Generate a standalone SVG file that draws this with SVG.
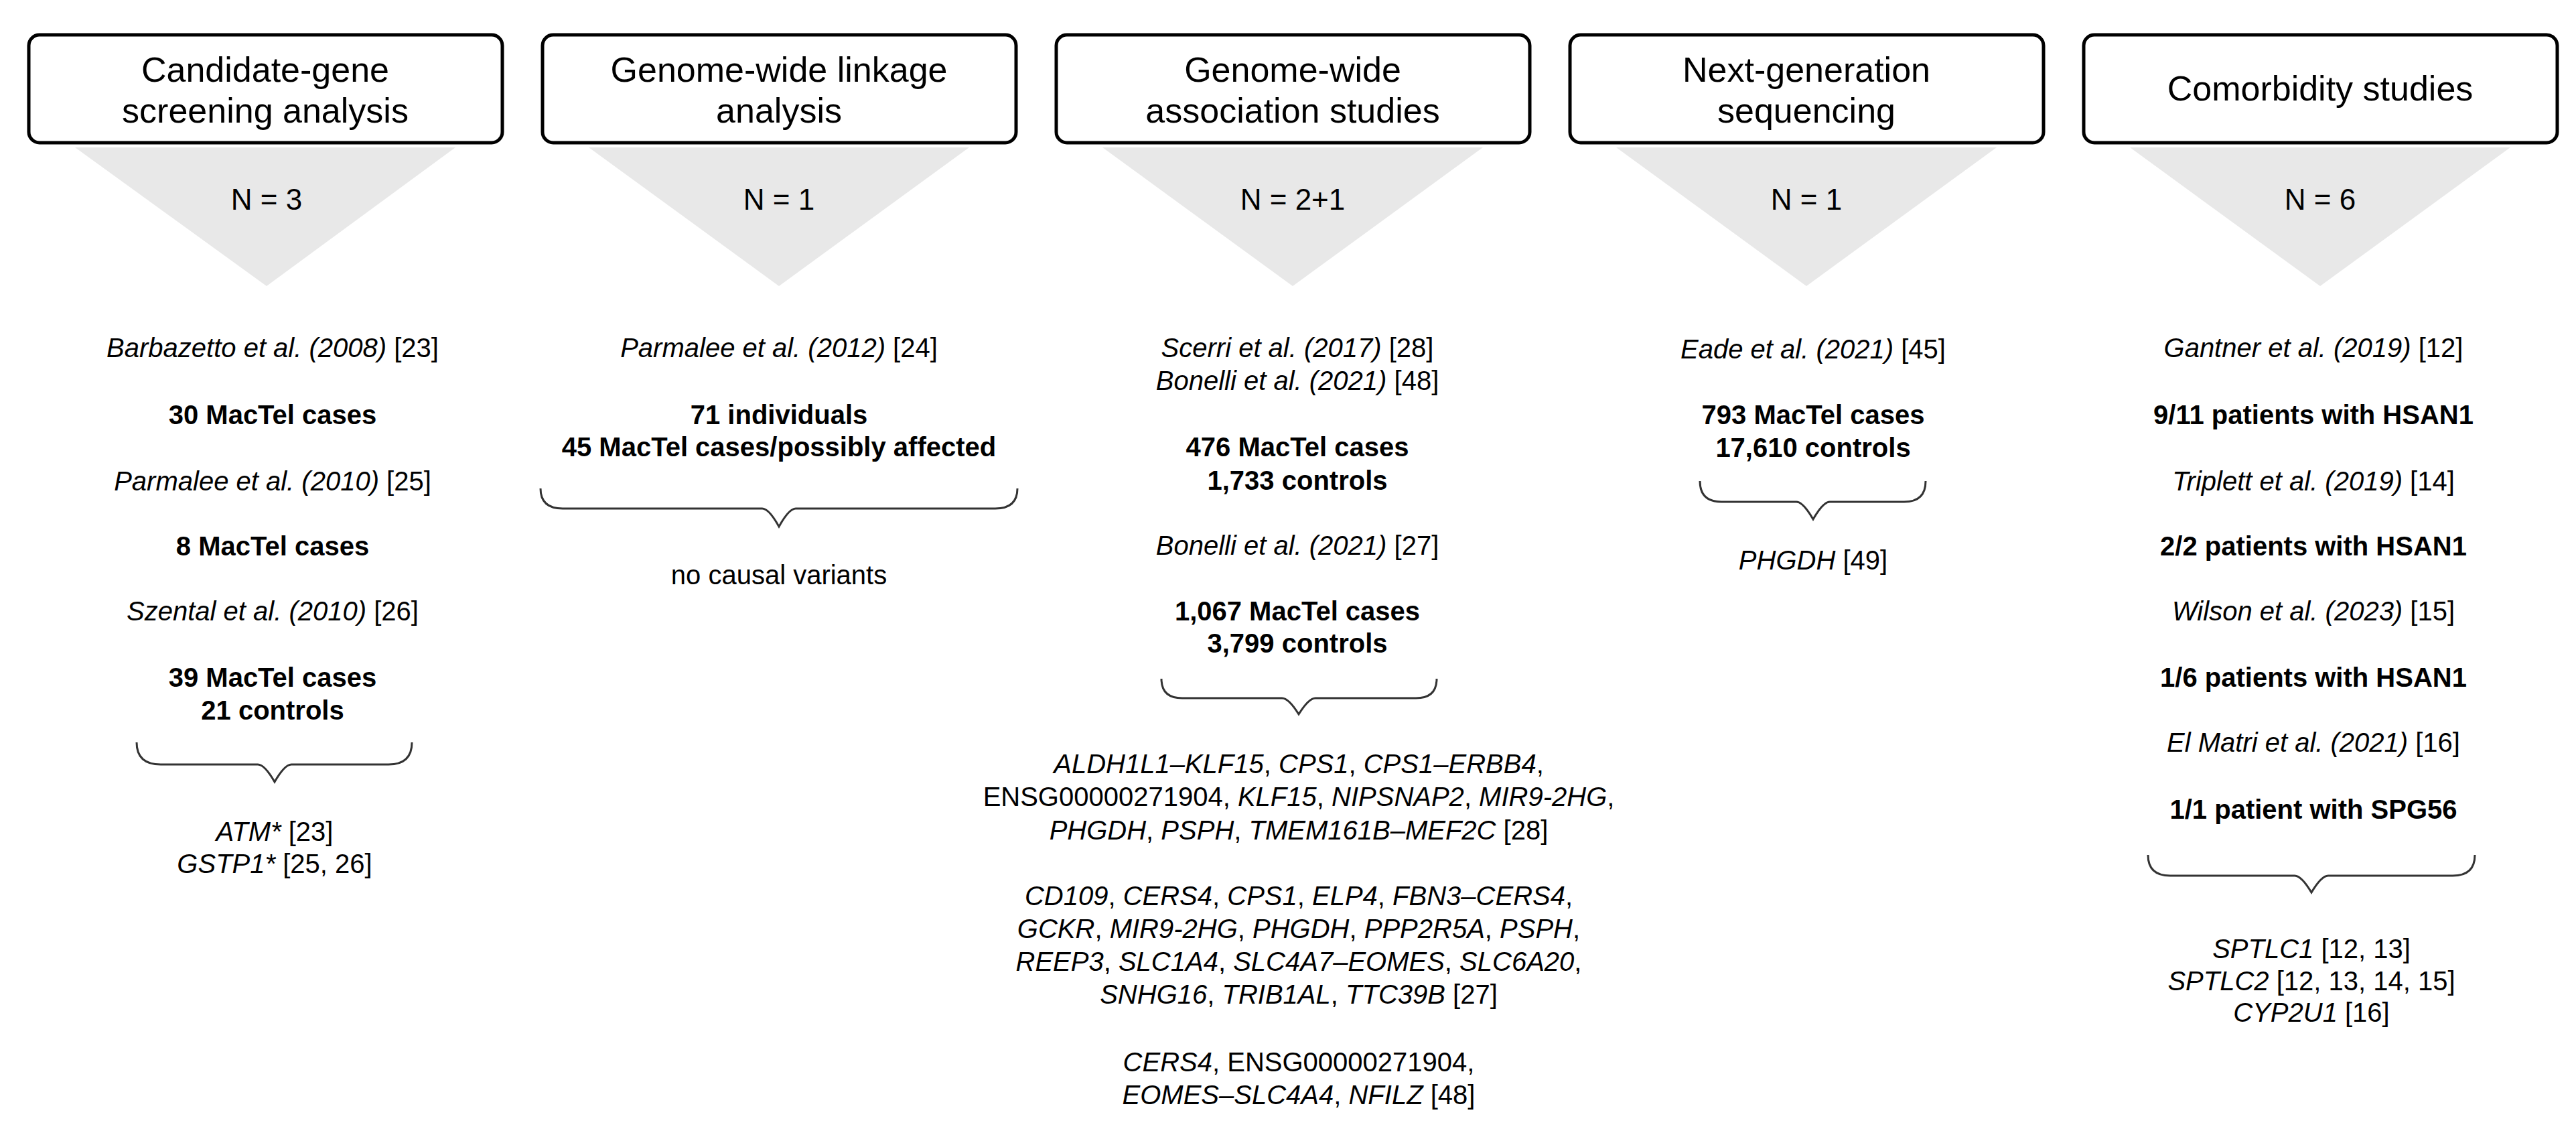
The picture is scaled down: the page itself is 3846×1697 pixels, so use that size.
<svg xmlns="http://www.w3.org/2000/svg" width="3846" height="1697" viewBox="0 0 3846 1697">
<style>
text{font-family:"Liberation Sans",Arial,sans-serif;fill:#000;text-anchor:middle}
.t{font-size:52px}
.n{font-size:44px}
.b{font-size:40px}
.bold{font-weight:bold}
.i{font-style:italic}
.box{fill:#fff;stroke:#000;stroke-width:5}
.edge{fill:none;stroke:#000;stroke-width:8}
.tri{fill:#e8e8e8}
.brace{fill:none;stroke:#333;stroke-width:3}
</style>
<rect width="3846" height="1697" fill="#fff"/>
<g id="col1">
<polygon class="tri" points="112,220 680,220 398,427"/>
<rect class="box" x="43" y="52" width="707" height="161" rx="16"/>
<text class="t" x="396" y="122">Candidate-gene</text>
<text class="t" x="396" y="183">screening analysis</text>
<text class="n" x="398" y="313">N = 3</text>
<text class="b i" x="407" y="533">Barbazetto et al. (2008)<tspan font-style="normal"> [23]</tspan></text>
<text class="b bold" x="407" y="633">30 MacTel cases</text>
<text class="b i" x="407" y="732">Parmalee et al. (2010)<tspan font-style="normal"> [25]</tspan></text>
<text class="b bold" x="407" y="829">8 MacTel cases</text>
<text class="b i" x="407" y="926">Szental et al. (2010)<tspan font-style="normal"> [26]</tspan></text>
<text class="b bold" x="407" y="1025">39 MacTel cases</text>
<text class="b bold" x="407" y="1074">21 controls</text>
<text class="b" x="410" y="1255"><tspan font-style="italic">ATM*</tspan> [23]</text>
<text class="b" x="410" y="1303"><tspan font-style="italic">GSTP1*</tspan> [25, 26]</text>
</g>
<g id="col2">
<polygon class="tri" points="879,220 1447,220 1163,427"/>
<rect class="box" x="810" y="52" width="707" height="161" rx="16"/>
<text class="t" x="1163" y="122">Genome-wide linkage</text>
<text class="t" x="1163" y="183">analysis</text>
<text class="n" x="1163" y="313">N = 1</text>
<text class="b i" x="1163" y="533">Parmalee et al. (2012)<tspan font-style="normal"> [24]</tspan></text>
<text class="b bold" x="1163" y="633">71 individuals</text>
<text class="b bold" x="1163" y="681">45 MacTel cases/possibly affected</text>
<text class="b" x="1163" y="872">no causal variants</text>
</g>
<g id="col3">
<polygon class="tri" points="1646,220 2214,220 1930,427"/>
<rect class="box" x="1577" y="52" width="707" height="161" rx="16"/>
<text class="t" x="1930" y="122">Genome-wide</text>
<text class="t" x="1930" y="183">association studies</text>
<text class="n" x="1930" y="313">N = 2+1</text>
<text class="b i" x="1937" y="533">Scerri et al. (2017)<tspan font-style="normal"> [28]</tspan></text>
<text class="b i" x="1937" y="582">Bonelli et al. (2021)<tspan font-style="normal"> [48]</tspan></text>
<text class="b bold" x="1937" y="681">476 MacTel cases</text>
<text class="b bold" x="1937" y="731">1,733 controls</text>
<text class="b i" x="1937" y="828">Bonelli et al. (2021)<tspan font-style="normal"> [27]</tspan></text>
<text class="b bold" x="1937" y="926">1,067 MacTel cases</text>
<text class="b bold" x="1937" y="974">3,799 controls</text>
<text class="b" x="1939" y="1154"><tspan font-style="italic">ALDH1L1–KLF15</tspan>, <tspan font-style="italic">CPS1</tspan>, <tspan font-style="italic">CPS1–ERBB4</tspan>,</text>
<text class="b" x="1939" y="1203">ENSG00000271904, <tspan font-style="italic">KLF15</tspan>, <tspan font-style="italic">NIPSNAP2</tspan>, <tspan font-style="italic">MIR9-2HG</tspan>,</text>
<text class="b" x="1939" y="1253"><tspan font-style="italic">PHGDH</tspan>, <tspan font-style="italic">PSPH</tspan>, <tspan font-style="italic">TMEM161B–MEF2C</tspan> [28]</text>
<text class="b" x="1939" y="1351"><tspan font-style="italic">CD109</tspan>, <tspan font-style="italic">CERS4</tspan>, <tspan font-style="italic">CPS1</tspan>, <tspan font-style="italic">ELP4</tspan>, <tspan font-style="italic">FBN3–CERS4</tspan>,</text>
<text class="b" x="1939" y="1400"><tspan font-style="italic">GCKR</tspan>, <tspan font-style="italic">MIR9-2HG</tspan>, <tspan font-style="italic">PHGDH</tspan>, <tspan font-style="italic">PPP2R5A</tspan>, <tspan font-style="italic">PSPH</tspan>,</text>
<text class="b" x="1939" y="1449"><tspan font-style="italic">REEP3</tspan>, <tspan font-style="italic">SLC1A4</tspan>, <tspan font-style="italic">SLC4A7–EOMES</tspan>, <tspan font-style="italic">SLC6A20</tspan>,</text>
<text class="b" x="1939" y="1498"><tspan font-style="italic">SNHG16</tspan>, <tspan font-style="italic">TRIB1AL</tspan>, <tspan font-style="italic">TTC39B</tspan> [27]</text>
<text class="b" x="1939" y="1599"><tspan font-style="italic">CERS4</tspan>, ENSG00000271904,</text>
<text class="b" x="1939" y="1648"><tspan font-style="italic">EOMES–SLC4A4</tspan>, <tspan font-style="italic">NFILZ</tspan> [48]</text>
</g>
<g id="col4">
<polygon class="tri" points="2413,220 2981,220 2697,427"/>
<rect class="box" x="2344" y="52" width="707" height="161" rx="16"/>
<text class="t" x="2697" y="122">Next-generation</text>
<text class="t" x="2697" y="183">sequencing</text>
<text class="n" x="2697" y="313">N = 1</text>
<text class="b i" x="2707" y="535">Eade et al. (2021)<tspan font-style="normal"> [45]</tspan></text>
<text class="b bold" x="2707" y="633">793 MacTel cases</text>
<text class="b bold" x="2707" y="682">17,610 controls</text>
<text class="b" x="2707" y="850"><tspan font-style="italic">PHGDH</tspan> [49]</text>
</g>
<g id="col5">
<polygon class="tri" points="3180,220 3748,220 3464,427"/>
<rect class="box" x="3111" y="52" width="707" height="161" rx="16"/>
<text class="t" x="3464" y="150">Comorbidity studies</text>
<text class="n" x="3464" y="313">N = 6</text>
<text class="b i" x="3454" y="533">Gantner et al. (2019)<tspan font-style="normal"> [12]</tspan></text>
<text class="b bold" x="3454" y="633">9/11 patients with HSAN1</text>
<text class="b i" x="3454" y="732">Triplett et al. (2019)<tspan font-style="normal"> [14]</tspan></text>
<text class="b bold" x="3454" y="829">2/2 patients with HSAN1</text>
<text class="b i" x="3454" y="926">Wilson et al. (2023)<tspan font-style="normal"> [15]</tspan></text>
<text class="b bold" x="3454" y="1025">1/6 patients with HSAN1</text>
<text class="b i" x="3454" y="1122">El Matri et al. (2021)<tspan font-style="normal"> [16]</tspan></text>
<text class="b bold" x="3454" y="1222">1/1 patient with SPG56</text>
<text class="b" x="3451" y="1430"><tspan font-style="italic">SPTLC1</tspan> [12, 13]</text>
<text class="b" x="3451" y="1478"><tspan font-style="italic">SPTLC2</tspan> [12, 13, 14, 15]</text>
<text class="b" x="3451" y="1525"><tspan font-style="italic">CYP2U1</tspan> [16]</text>
</g>
<g id="connectors">
<path class="brace" d="M204,1108 Q204,1141 240,1141 L385,1141 Q395,1141 410,1167 Q425,1141 435,1141 L580,1141 Q615,1141 615,1108"/>
<path class="brace" d="M807,729 Q807,759 840,759 L1138,759 Q1148,759 1163,786 Q1178,759 1188,759 L1486,759 Q1519,759 1519,729"/>
<path class="brace" d="M1734,1013 Q1734,1042 1765,1042 L1914,1042 Q1924,1042 1939,1066 Q1954,1042 1964,1042 L2114,1042 Q2145,1042 2145,1013"/>
<path class="brace" d="M2538,718 Q2538,749 2570,749 L2682,749 Q2692,749 2707,775 Q2722,749 2732,749 L2843,749 Q2875,749 2875,718"/>
<path class="brace" d="M3207,1276 Q3207,1307 3240,1307 L3426,1307 Q3436,1307 3451,1332 Q3466,1307 3476,1307 L3662,1307 Q3695,1307 3695,1276"/>
</g>
</svg>
